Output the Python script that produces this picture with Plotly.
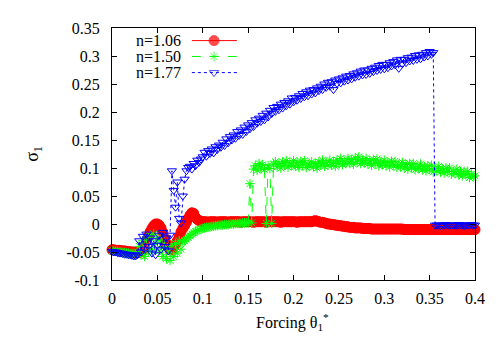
import plotly.graph_objects as go

# forcing theta_1* (step 0.002)
FORCING = [
    0.000, 0.002, 0.004, 0.006, 0.008, 0.010, 0.012, 0.014, 0.016, 0.018,
    0.020, 0.022, 0.024, 0.026, 0.028, 0.030, 0.032, 0.034, 0.036, 0.038,
    0.040, 0.042, 0.044, 0.046, 0.048, 0.050, 0.052, 0.054, 0.056, 0.058,
    0.060, 0.062, 0.064, 0.066, 0.068, 0.070, 0.072, 0.074, 0.076, 0.078,
    0.080, 0.082, 0.084, 0.086, 0.088, 0.090, 0.092, 0.094, 0.096, 0.098,
    0.100, 0.102, 0.104, 0.106, 0.108, 0.110, 0.112, 0.114, 0.116, 0.118,
    0.120, 0.122, 0.124, 0.126, 0.128, 0.130, 0.132, 0.134, 0.136, 0.138,
    0.140, 0.142, 0.144, 0.146, 0.148, 0.150, 0.152, 0.154, 0.156, 0.158,
    0.160, 0.162, 0.164, 0.166, 0.168, 0.170, 0.172, 0.174, 0.176, 0.178,
    0.180, 0.182, 0.184, 0.186, 0.188, 0.190, 0.192, 0.194, 0.196, 0.198,
    0.200, 0.202, 0.204, 0.206, 0.208, 0.210, 0.212, 0.214, 0.216, 0.218,
    0.220, 0.222, 0.224, 0.226, 0.228, 0.230, 0.232, 0.234, 0.236, 0.238,
    0.240, 0.242, 0.244, 0.246, 0.248, 0.250, 0.252, 0.254, 0.256, 0.258,
    0.260, 0.262, 0.264, 0.266, 0.268, 0.270, 0.272, 0.274, 0.276, 0.278,
    0.280, 0.282, 0.284, 0.286, 0.288, 0.290, 0.292, 0.294, 0.296, 0.298,
    0.300, 0.302, 0.304, 0.306, 0.308, 0.310, 0.312, 0.314, 0.316, 0.318,
    0.320, 0.322, 0.324, 0.326, 0.328, 0.330, 0.332, 0.334, 0.336, 0.338,
    0.340, 0.342, 0.344, 0.346, 0.348, 0.350, 0.352, 0.354, 0.356, 0.358,
    0.360, 0.362, 0.364, 0.366, 0.368, 0.370, 0.372, 0.374, 0.376, 0.378,
    0.380, 0.382, 0.384, 0.386, 0.388, 0.390, 0.392, 0.394, 0.396, 0.398,
    0.400,
]

# n = 1.06
SIGMA_106 = [
    -0.046, -0.046, -0.047, -0.047, -0.047, -0.048, -0.048, -0.048, -0.049, -0.049,
    -0.050, -0.050, -0.050, -0.051, -0.051, -0.051, -0.050, -0.046, -0.040, -0.031,
    -0.022, -0.014, -0.008, -0.003, 0.000, 0.000, -0.002, -0.007, -0.015, -0.025,
    -0.035, -0.042, -0.046, -0.046, -0.042, -0.036, -0.030, -0.022, -0.014, -0.008,
    -0.003, 0.003, 0.010, 0.016, 0.020, 0.019, 0.012, 0.008, 0.006, 0.005,
    0.004, 0.004, 0.004, 0.003, 0.004, 0.004, 0.004, 0.004, 0.003, 0.004,
    0.004, 0.004, 0.004, 0.004, 0.003, 0.004, 0.004, 0.004, 0.004, 0.004,
    0.004, 0.003, 0.004, 0.004, 0.004, 0.004, 0.004, 0.004, 0.003, 0.004,
    0.004, 0.004, 0.004, 0.004, 0.004, 0.003, 0.004, 0.004, 0.004, 0.004,
    0.004, 0.004, 0.004, 0.003, 0.004, 0.004, 0.004, 0.004, 0.004, 0.004,
    0.004, 0.004, 0.003, 0.004, 0.004, 0.004, 0.004, 0.004, 0.004, 0.004,
    0.004, 0.005, 0.006, 0.005, 0.004, 0.003, 0.003, 0.002, 0.001, 0.000,
    0.000, -0.001, -0.001, -0.002, -0.002, -0.003, -0.003, -0.004, -0.004, -0.005,
    -0.005, -0.006, -0.006, -0.006, -0.007, -0.007, -0.007, -0.007, -0.008, -0.008,
    -0.008, -0.008, -0.008, -0.009, -0.009, -0.009, -0.009, -0.009, -0.009, -0.009,
    -0.009, -0.009, -0.009, -0.009, -0.009, -0.009, -0.009, -0.009, -0.009, -0.009,
    -0.009, -0.010, -0.010, -0.010, -0.010, -0.010, -0.010, -0.010, -0.010, -0.010,
    -0.010, -0.010, -0.010, -0.010, -0.010, -0.010, -0.010, -0.010, -0.010, -0.010,
    -0.010, -0.010, -0.010, -0.010, -0.010, -0.010, -0.010, -0.010, -0.010, -0.010,
    -0.010, -0.010, -0.010, -0.010, -0.010, -0.010, -0.010, -0.010, -0.010, -0.010,
    -0.010,
]

# n = 1.50
SIGMA_150 = [
    -0.048, -0.048, -0.049, -0.049, -0.050, -0.050, -0.051, -0.051, -0.052, -0.052,
    -0.053, -0.053, -0.054, -0.054, -0.050, -0.040, -0.055, -0.030, -0.058, -0.025,
    -0.050, -0.020, -0.045, -0.018, -0.035, -0.025, -0.048, -0.030, -0.058, -0.040,
    -0.062, -0.045, -0.065, -0.038, -0.058, -0.035, -0.052, -0.030, -0.045, -0.032,
    -0.030, -0.027, -0.024, -0.021, -0.018, -0.016, -0.013, -0.012, -0.010, -0.009,
    -0.008, -0.007, -0.006, -0.006, -0.005, -0.004, -0.004, -0.003, -0.003, -0.002,
    -0.002, -0.002, -0.001, -0.001, -0.001, 0.000, 0.000, 0.000, 0.001, 0.001,
    0.001, 0.001, 0.002, 0.002, 0.002, 0.002, 0.072, 0.002, 0.098, 0.104,
    0.096, 0.108, 0.100, 0.106, 0.097, 0.001, 0.104, 0.099, 0.001, 0.107,
    0.111, 0.102, 0.108, 0.100, 0.111, 0.105, 0.113, 0.102, 0.109, 0.104,
    0.113, 0.103, 0.110, 0.101, 0.112, 0.105, 0.113, 0.101, 0.107, 0.103,
    0.111, 0.102, 0.108, 0.100, 0.111, 0.105, 0.114, 0.103, 0.110, 0.105,
    0.114, 0.105, 0.111, 0.103, 0.114, 0.108, 0.117, 0.106, 0.112, 0.108,
    0.117, 0.108, 0.115, 0.107, 0.118, 0.111, 0.120, 0.108, 0.114, 0.109,
    0.117, 0.107, 0.113, 0.105, 0.115, 0.108, 0.116, 0.104, 0.110, 0.106,
    0.114, 0.104, 0.110, 0.102, 0.112, 0.105, 0.112, 0.101, 0.106, 0.102,
    0.110, 0.100, 0.106, 0.098, 0.108, 0.101, 0.108, 0.097, 0.103, 0.099,
    0.107, 0.097, 0.103, 0.095, 0.104, 0.098, 0.105, 0.093, 0.099, 0.095,
    0.103, 0.093, 0.099, 0.091, 0.100, 0.094, 0.100, 0.089, 0.094, 0.090,
    0.098, 0.088, 0.094, 0.086, 0.094, 0.088, 0.094, 0.083, 0.089, 0.084,
    0.086,
]

# n = 1.77
SIGMA_177 = [
    -0.049, -0.050, -0.050, -0.051, -0.052, -0.052, -0.053, -0.054, -0.054, -0.055,
    -0.055, -0.056, -0.057, -0.057, -0.055, -0.030, -0.050, -0.022, -0.045, -0.018,
    -0.040, -0.025, -0.052, -0.030, -0.055, -0.038, -0.020, -0.045, -0.015, -0.040,
    -0.025, -0.048, -0.020, 0.095, 0.060, 0.030, 0.075, 0.010, 0.002, 0.050,
    0.080, 0.095, 0.101, 0.103, 0.098, 0.108, 0.104, 0.114, 0.110, 0.116,
    0.120, 0.128, 0.121, 0.131, 0.126, 0.134, 0.127, 0.138, 0.133, 0.141,
    0.137, 0.146, 0.140, 0.152, 0.145, 0.156, 0.150, 0.159, 0.153, 0.165,
    0.158, 0.168, 0.160, 0.173, 0.165, 0.177, 0.170, 0.181, 0.174, 0.186,
    0.180, 0.189, 0.183, 0.194, 0.186, 0.198, 0.191, 0.203, 0.197, 0.208,
    0.201, 0.210, 0.204, 0.214, 0.207, 0.217, 0.211, 0.220, 0.214, 0.225,
    0.218, 0.226, 0.221, 0.229, 0.224, 0.233, 0.227, 0.236, 0.229, 0.239,
    0.232, 0.240, 0.234, 0.243, 0.238, 0.246, 0.240, 0.250, 0.244, 0.253,
    0.246, 0.254, 0.240, 0.257, 0.251, 0.259, 0.252, 0.261, 0.255, 0.264,
    0.257, 0.265, 0.259, 0.268, 0.262, 0.270, 0.264, 0.273, 0.266, 0.275,
    0.267, 0.275, 0.269, 0.278, 0.272, 0.280, 0.274, 0.283, 0.276, 0.285,
    0.277, 0.285, 0.279, 0.288, 0.282, 0.290, 0.284, 0.293, 0.278, 0.294,
    0.286, 0.294, 0.288, 0.297, 0.291, 0.298, 0.292, 0.301, 0.294, 0.302,
    0.295, 0.303, 0.298, 0.306, 0.300, 0.308, 0.303, 0.306, -0.002, -0.002,
    -0.002, -0.003, -0.002, -0.002, -0.001, -0.002, -0.002, -0.003, -0.002, -0.002,
    -0.002, -0.001, -0.002, -0.002, -0.003, -0.002, -0.002, -0.002, -0.001, -0.002,
    -0.002,
]

assert len(FORCING) == len(SIGMA_106) == len(SIGMA_150) == len(SIGMA_177)

LABELS = ["n=1.06", "n=1.50", "n=1.77"]
COLORS = ["#ff0000", "#00ff00", "#0000ff"]
SYMBOLS = ["circle", "asterisk-open", "triangle-down-open"]
SIZES = [10, 8, 8]
DASHES = ["solid", "dash", "dot"]

FONT = "Liberation Serif, Times New Roman, Times, serif"

fig = go.Figure()

for ys, label, color, sym, size, dash in zip(
    [SIGMA_106, SIGMA_150, SIGMA_177], LABELS, COLORS, SYMBOLS, SIZES, DASHES
):
    fig.add_trace(
        go.Scatter(
            x=FORCING,
            y=ys,
            mode="lines+markers",
            name=label,
            cliponaxis=False,
            line={"color": color, "width": 1, "dash": dash},
            marker={"symbol": sym, "size": size, "color": color, "line": {"color": color, "width": 1}},
            showlegend=False,
        )
    )

# gnuplot style key: text on the left, sample on the right
key_rows = [0.950, 0.887, 0.823]
for row, label, color, sym, size, dash in zip(key_rows, LABELS, COLORS, SYMBOLS, SIZES, DASHES):
    fig.add_trace(
        go.Scatter(
            x=[0.220, 0.281, 0.344],
            y=[row, row, row],
            xaxis="x2",
            yaxis="y2",
            mode="lines+markers",
            cliponaxis=False,
            line={"color": color, "width": 1, "dash": dash},
            marker={"symbol": sym, "size": [0, size, 0], "color": color, "line": {"color": color, "width": 1}},
            showlegend=False,
            hoverinfo="skip",
        )
    )
    fig.add_annotation(
        text=label, xref="paper", yref="paper", x=0.195, y=row,
        xanchor="right", yanchor="middle", showarrow=False,
        font={"family": FONT, "size": 16, "color": "black"},
    )

axis_style = dict(
    showline=True, linecolor="black", linewidth=1, mirror="ticks",
    ticks="inside", ticklen=5, tickcolor="black", showgrid=False, zeroline=False,
    tickfont={"family": FONT, "size": 16, "color": "black"},
)

# page body has an 8px margin, so the figure is shrunk by that much
fig.update_layout(
    width=492,
    height=342,
    margin={"l": 104, "r": 25, "t": 12, "b": 70},
    paper_bgcolor="white",
    plot_bgcolor="white",
    font={"family": FONT, "size": 16, "color": "black"},
    xaxis=dict(axis_style, range=[0, 0.4], tickvals=[0, 0.05, 0.1, 0.15, 0.2, 0.25, 0.3, 0.35, 0.4],
               ticktext=["0", "0.05", "0.1", "0.15", "0.2", "0.25", "0.3", "0.35", "0.4"], ticklabelstandoff=4),
    yaxis=dict(axis_style, range=[-0.1, 0.35], tickvals=[-0.1, -0.05, 0, 0.05, 0.1, 0.15, 0.2, 0.25, 0.3, 0.35],
               ticktext=["-0.1", "-0.05", "0", "0.05", "0.1", "0.15", "0.2", "0.25", "0.3", "0.35"], ticklabelstandoff=8),
    xaxis2=dict(overlaying="x", anchor="y2", range=[0, 1], visible=False),
    yaxis2=dict(overlaying="y", anchor="x2", range=[0, 1], visible=False),
)

fig.add_annotation(
    text="Forcing θ<sub>1</sub><sup>*</sup>", xref="paper", yref="paper", x=0.497, y=-0.165,
    xanchor="center", yanchor="middle", showarrow=False,
    font={"family": FONT, "size": 16, "color": "black"},
)
fig.add_annotation(
    text="σ<sub>1</sub>", xref="paper", yref="paper", x=-0.218, y=0.5,
    xanchor="center", yanchor="middle", textangle=-90, showarrow=False,
    font={"family": FONT, "size": 18, "color": "black"},
)

fig.write_html("out.html")
